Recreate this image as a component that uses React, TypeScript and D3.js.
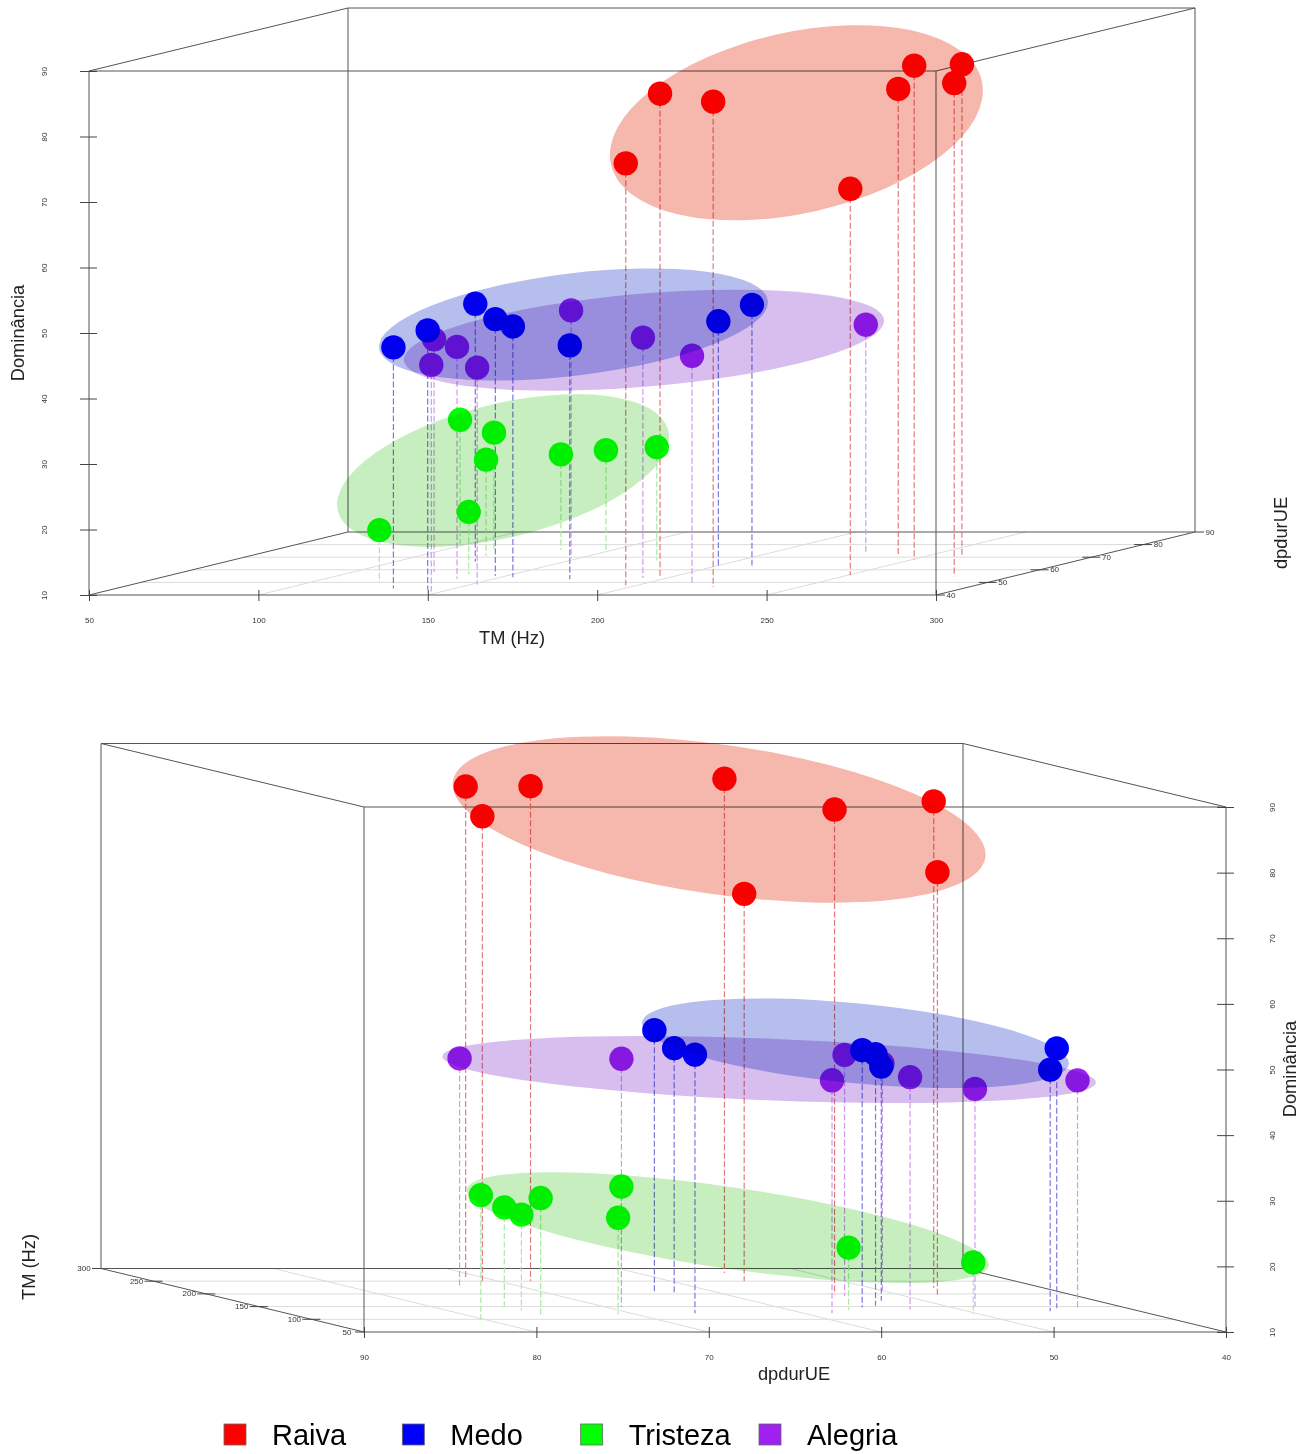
import React, { useEffect, useRef } from "react";
import * as d3 from "d3";

// values: TM (Hz), dpdurUE, Dominancia
const raivaTM = [196.5, 197.6, 224.6, 250.7, 240.7, 250.6, 282.6, 259.8];
const raivaDp = [47.8, 53.7, 46.3, 55.7, 71.5, 68.1, 54.9, 71.3];
const raivaDom = [74.4, 83.9, 84.1, 69.0, 81.2, 85.4, 85.3, 85.0];

const medoTM = [131.9, 143.7, 123.8, 146.7, 153.7, 172.8, 200.9, 209.9];
const medoDp = [45.2, 44.1, 66.3, 55.2, 54.0, 52.5, 62.8, 63.4];
const medoDom = [46.8, 49.6, 49.4, 49.2, 48.3, 45.7, 47.4, 49.8];

const tristezaTM = [119.8, 136.7, 119.8, 114.8, 97.9, 134.7, 147.7, 175.7];
const tristezaDp = [50.4, 56.6, 71.0, 75.8, 80.3, 75.7, 75.9, 67.4];
const tristezaDom = [17.9, 19.5, 24.7, 27.9, 29.0, 24.6, 25.2, 27.3];

const alegriaTM = [123.8, 138.9, 146.9, 151.8, 147.8, 193.0, 212.7, 227.9];
const alegriaDp = [58.35, 52.9, 42.7, 48.35, 69.1, 53.4, 50.0, 73.6];
const alegriaDom = [45.5, 45.4, 44.6, 43.1, 47.85, 46.7, 44.6, 44.8];

const tmTicks = [50, 100, 150, 200, 250, 300];
const dpTicks = [40, 50, 60, 70, 80, 90];
const domTicks = [10, 20, 30, 40, 50, 60, 70, 80, 90];

const legendNames = ["Raiva", "Medo", "Tristeza", "Alegria"];

// ellipses per view: [x axis value, Dominancia, x radius, Dominancia radius, tilt in deg]
const ellipsesTop = {
  Raiva: [258.8, 82.1, 56.1, 13.8, -12.7],
  Medo: [193.0, 51.3, 57.8, 7.8, -7],
  Alegria: [213.8, 48.9, 71.1, 7.1, -4.8],
  Tristeza: [172.2, 29.0, 50.2, 10.2, -13.7],
};
const ellipsesBottom = {
  Raiva: [69.4, 88.1, 15.6, 11.4, 8.1],
  Medo: [61.5, 54.0, 12.44, 6.1, 5.5],
  Alegria: [66.5, 50.0, 18.97, 4.7, 2.3],
  Tristeza: [68.9, 25.9, 15.3, 6.2, 8.3],
};

const pointColor = { Raiva: "#ff0000", Medo: "#0000ff", Tristeza: "#00ff00", Alegria: "#a020f0" };
const stemColor = { Raiva: "#e27a80", Medo: "#7a7ade", Tristeza: "#a8eaa0", Alegria: "#cc9cf0" };
const ellipseColor = { Raiva: "#f6b7ac", Medo: "#b6beee", Tristeza: "#c6eebe", Alegria: "#d7beee" };

const groups = [
  { name: "Raiva", tm: raivaTM, dp: raivaDp, dom: raivaDom },
  { name: "Tristeza", tm: tristezaTM, dp: tristezaDp, dom: tristezaDom },
  { name: "Alegria", tm: alegriaTM, dp: alegriaDp, dom: alegriaDom },
  { name: "Medo", tm: medoTM, dp: medoDp, dom: medoDom },
];

const FONT = "'Liberation Sans', Arial, sans-serif";
const BOX = "#555";
const GRID = "#dcdcdc";

function drawPanel(svg, cfg) {
  const g = svg.append("g");
  const xScale = d3.scaleLinear().domain(cfg.xDomain).range(cfg.xRange);
  const zScale = d3.scaleLinear().domain([10, 90]).range(cfg.zRange);
  const depthX = d3.scaleLinear().domain(cfg.depthDomain).range([0, cfg.depthShift[0]]);
  const depthY = d3.scaleLinear().domain(cfg.depthDomain).range([0, cfg.depthShift[1]]);

  const [x0, x1] = cfg.xRange;
  const [zBottom, zTop] = cfg.zRange;
  const [sx, sy] = cfg.depthShift;

  // floor grid
  const grid = g.append("g").attr("stroke", GRID).attr("stroke-width", 1);
  cfg.depthTicks.slice(1, -1).forEach((v) => {
    grid.append("line")
      .attr("x1", x0 + depthX(v)).attr("x2", x1 + depthX(v))
      .attr("y1", zBottom + depthY(v)).attr("y2", zBottom + depthY(v));
  });
  cfg.xTicks.slice(1, -1).forEach((v) => {
    grid.append("line")
      .attr("x1", xScale(v)).attr("x2", xScale(v) + sx)
      .attr("y1", zBottom).attr("y2", zBottom + sy);
  });

  // the box
  const box = d3.line();
  const rect = (dx, dy) => [
    [x0 + dx, zTop + dy], [x1 + dx, zTop + dy], [x1 + dx, zBottom + dy], [x0 + dx, zBottom + dy], [x0 + dx, zTop + dy],
  ];
  const edges = g.append("g").attr("fill", "none").attr("stroke", BOX).attr("stroke-width", 1);
  edges.append("path").attr("d", box(rect(sx, sy)));
  edges.append("path").attr("d", box(rect(0, 0)));
  [[x0, zTop], [x1, zTop], [x0, zBottom], [x1, zBottom]].forEach(([a, b]) => {
    edges.append("path").attr("d", box([[a, b], [a + sx, b + sy]]));
  });

  // x axis
  const xAxis = g.append("g")
    .attr("transform", `translate(0,${zBottom - 5})`)
    .call(d3.axisBottom(xScale).tickValues(cfg.xTicks).tickSize(11).tickPadding(16).tickFormat(d3.format("d")));
  xAxis.select(".domain").remove();

  // Dominancia axis, labels turned on their side
  const zAxisFn = cfg.zSide === "left" ? d3.axisLeft(zScale) : d3.axisRight(zScale);
  const zAxis = g.append("g")
    .attr("transform", `translate(${cfg.zAxisX},0)`)
    .call(zAxisFn.tickValues(domTicks).tickSize(17).tickFormat(d3.format("d")));
  zAxis.select(".domain").remove();
  zAxis.selectAll("text")
    .attr("transform", "rotate(-90)")
    .attr("text-anchor", "middle")
    .attr("x", 0)
    .attr("y", cfg.zLabelOffset)
    .attr("dy", "0.32em");

  [xAxis, zAxis].forEach((a) => {
    a.attr("font-family", FONT).attr("font-size", 8);
    a.selectAll("line").attr("stroke", "#444");
    a.selectAll("text").attr("fill", "#333");
  });

  // depth axis ticks sit across the box edge, the two end ticks only stick out
  const depthAxis = g.append("g").attr("font-family", FONT).attr("font-size", 8);
  const outward = Math.sign(cfg.depthLabelOffset);
  cfg.depthTicks.forEach((v, i) => {
    const px = cfg.depthAxisX + depthX(v);
    const py = zBottom + depthY(v);
    const isEnd = i === 0 || i === cfg.depthTicks.length - 1;
    depthAxis.append("line")
      .attr("x1", isEnd ? px : px - outward * 9).attr("x2", px + outward * 9)
      .attr("y1", py).attr("y2", py)
      .attr("stroke", "#444");
    depthAxis.append("text")
      .attr("x", px + cfg.depthLabelOffset).attr("y", py).attr("dy", "0.32em")
      .attr("text-anchor", "middle").attr("fill", "#333")
      .text(v);
  });

  const px = (d) => xScale(cfg.xValue(d)) + depthX(cfg.depthValue(d));
  const floorY = (d) => zBottom + depthY(cfg.depthValue(d));
  const py = (d) => zScale(d.dom) + depthY(cfg.depthValue(d));

  const rows = groups.map((s) => ({
    name: s.name,
    points: s.tm.map((tm, i) => ({ tm, dp: s.dp[i], dom: s.dom[i] })),
  }));

  // stems down to the floor
  rows.forEach((s) => {
    g.append("g").selectAll("line").data(s.points).enter().append("line")
      .attr("x1", px).attr("x2", px)
      .attr("y1", py).attr("y2", floorY)
      .attr("stroke", stemColor[s.name])
      .attr("stroke-width", 1.2)
      .attr("stroke-dasharray", "6 2.5");
  });
  rows.forEach((s) => {
    g.append("g").selectAll("circle").data(s.points).enter().append("circle")
      .attr("cx", px).attr("cy", py).attr("r", 12.2)
      .attr("fill", pointColor[s.name]);
  });

  // ellipses go on top and tint everything beneath them
  const xUnit = Math.abs(xScale(cfg.xTicks[1]) - xScale(cfg.xTicks[0])) / Math.abs(cfg.xTicks[1] - cfg.xTicks[0]);
  const zUnit = Math.abs(zScale(20) - zScale(10)) / 10;
  ["Raiva", "Tristeza", "Alegria", "Medo"].forEach((name) => {
    const [cx, cz, rx, rz, tilt] = cfg.ellipses[name];
    g.append("ellipse")
      .attr("rx", rx * xUnit)
      .attr("ry", rz * zUnit)
      .attr("transform", `translate(${xScale(cx)},${zScale(cz)}) rotate(${tilt})`)
      .attr("fill", ellipseColor[name])
      .style("mix-blend-mode", "multiply");
  });

  // axis titles
  cfg.titles.forEach((t) => {
    g.append("text")
      .attr("transform", `translate(${t.x},${t.y}) rotate(${t.rotate})`)
      .attr("text-anchor", "middle")
      .attr("dy", "0.35em")
      .attr("font-family", FONT)
      .attr("font-size", 18.3)
      .attr("fill", "#222")
      .text(t.text);
  });
}

export default function App() {
  const ref = useRef(null);

  useEffect(() => {
    const svg = d3.select(ref.current);
    svg.selectAll("*").remove();
    svg.append("rect").attr("width", 1311).attr("height", 1454).attr("fill", "#fff");

    drawPanel(svg, {
      xDomain: [50, 300],
      xRange: [89, 936],
      zRange: [595, 71],
      depthDomain: [40, 90],
      depthShift: [259, -63],
      xTicks: tmTicks,
      depthTicks: dpTicks,
      xValue: (d) => d.tm,
      depthValue: (d) => d.dp,
      zSide: "left",
      zAxisX: 97,
      zLabelOffset: -53,
      depthAxisX: 936,
      depthLabelOffset: 15,
      ellipses: ellipsesTop,
      titles: [
        { text: "TM (Hz)", x: 512, y: 638, rotate: 0 },
        { text: "Dominância", x: 18, y: 333, rotate: -90 },
        { text: "dpdurUE", x: 1281, y: 533, rotate: -90 },
      ],
    });

    drawPanel(svg, {
      xDomain: [90, 40],
      xRange: [364, 1226],
      zRange: [1332, 807],
      depthDomain: [50, 300],
      depthShift: [-263, -63.5],
      xTicks: [...dpTicks].reverse(),
      depthTicks: tmTicks,
      xValue: (d) => d.dp,
      depthValue: (d) => d.tm,
      zSide: "right",
      zAxisX: 1217,
      zLabelOffset: 55,
      depthAxisX: 364,
      depthLabelOffset: -17,
      ellipses: ellipsesBottom,
      titles: [
        { text: "dpdurUE", x: 794, y: 1374, rotate: 0 },
        { text: "Dominância", x: 1290, y: 1069, rotate: -90 },
        { text: "TM (Hz)", x: 29, y: 1267, rotate: -90 },
      ],
    });

    // legend
    const legendX = d3.scalePoint().domain(legendNames).range([224, 759]);
    const legend = svg.append("g");
    legendNames.forEach((name) => {
      legend.append("rect")
        .attr("x", legendX(name)).attr("y", 1424)
        .attr("width", 22).attr("height", 21)
        .attr("fill", pointColor[name])
        .attr("stroke", "#666")
        .attr("stroke-width", 0.8);
      legend.append("text")
        .attr("x", legendX(name) + 48).attr("y", 1445)
        .attr("font-family", FONT)
        .attr("font-size", 29)
        .attr("fill", "#000")
        .text(name);
    });
  }, []);

  return (
    <svg
      ref={ref}
      width={1311}
      height={1454}
      viewBox="0 0 1311 1454"
      style={{ position: "absolute", left: 0, top: 0, display: "block" }}
    />
  );
}
